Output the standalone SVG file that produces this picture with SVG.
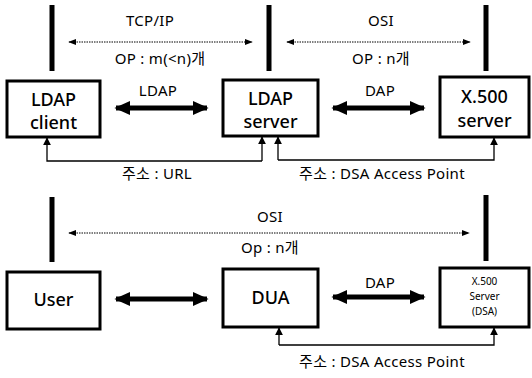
<svg xmlns="http://www.w3.org/2000/svg" width="532" height="378" viewBox="0 0 532 378">
<defs>
<style>
text{font-family:"Noto Sans","Noto Sans CJK KR",sans-serif;fill:#000;text-anchor:middle}
.lbl{font-size:15px;letter-spacing:0.3px}
.box{font-size:18px;font-weight:500}
.small{font-size:10px}
.node rect{fill:#fff;stroke:#000;stroke-width:3}
.bar{fill:#000}
.dot{stroke:#000;stroke-width:1;stroke-dasharray:1.5 1;fill:none}
.thick{stroke:#000;stroke-width:5;fill:none}
.thin{stroke:#000;stroke-width:1.3;fill:none}
</style>
<marker id="sa" viewBox="0 0 10 10" refX="9" refY="5" markerWidth="8" markerHeight="8" markerUnits="userSpaceOnUse" orient="auto-start-reverse"><path d="M0,1 L10,5 L0,9 Z" fill="#000"/></marker>
<marker id="ba" viewBox="0 0 10 10" refX="9" refY="5" markerWidth="16" markerHeight="16" markerUnits="userSpaceOnUse" orient="auto-start-reverse"><path d="M0,0.5 L10,5 L0,9.5 Z" fill="#000"/></marker>
<marker id="ua" viewBox="0 0 10 10" refX="9" refY="5" markerWidth="8" markerHeight="8" markerUnits="userSpaceOnUse" orient="auto"><path d="M0,0 L10,5 L0,10 Z" fill="#000"/></marker>
</defs>
<rect width="532" height="378" fill="#fff"/>
<g id="bars">
<rect class="bar" x="49.5" y="5" width="5" height="66"/>
<rect class="bar" x="266.5" y="5" width="5" height="66"/>
<rect class="bar" x="483.5" y="5" width="5" height="66"/>
<rect class="bar" x="49.5" y="197" width="5" height="65"/>
<rect class="bar" x="483.5" y="195" width="5" height="66"/>
</g>
<g id="ldap-client" class="node"><rect x="7" y="81" width="93" height="56"/><text class="box" x="53.5" y="106">LDAP</text><text class="box" x="53.5" y="129">client</text></g>
<g id="ldap-server" class="node"><rect x="223" y="80" width="95" height="56"/><text class="box" x="270.5" y="105">LDAP</text><text class="box" x="270.5" y="128">server</text></g>
<g id="x500-server" class="node"><rect x="440" y="77" width="89" height="60"/><text class="box" x="484.5" y="103">X.500</text><text class="box" x="484.5" y="127">server</text></g>
<g id="user" class="node"><rect x="7" y="272" width="93" height="57"/><text class="box" x="53.5" y="306">User</text></g>
<g id="dua" class="node"><rect x="223" y="269" width="95" height="58"/><text class="box" x="270.5" y="304">DUA</text></g>
<g id="x500-dsa" class="node"><rect x="440" y="268" width="89" height="59"/><text class="small" x="484.5" y="285">X.500</text><text class="small" x="484.5" y="300">Server</text><text class="small" x="484.5" y="315">(DSA)</text></g>
<g id="connectors">
<line class="dot" x1="69" y1="42" x2="252" y2="42" marker-start="url(#sa)" marker-end="url(#sa)"/>
<line class="dot" x1="287" y1="42" x2="470" y2="42" marker-start="url(#sa)" marker-end="url(#sa)"/>
<line class="dot" x1="69" y1="233" x2="469" y2="233" marker-start="url(#sa)" marker-end="url(#sa)"/>
<line class="thick" x1="116" y1="108" x2="207" y2="108" marker-start="url(#ba)" marker-end="url(#ba)"/>
<line class="thick" x1="333" y1="108" x2="424" y2="108" marker-start="url(#ba)" marker-end="url(#ba)"/>
<line class="thick" x1="116" y1="299" x2="207" y2="299" marker-start="url(#ba)" marker-end="url(#ba)"/>
<line class="thick" x1="333" y1="297" x2="424" y2="297" marker-start="url(#ba)" marker-end="url(#ba)"/>
<polyline class="thin" points="262,161 47,161 47,138" marker-end="url(#ua)"/>
<line class="thin" x1="262" y1="161" x2="262" y2="137" marker-end="url(#ua)"/>
<polyline class="thin" points="278,160 494,160 494,138" marker-end="url(#ua)"/>
<line class="thin" x1="278" y1="160" x2="278" y2="137" marker-end="url(#ua)"/>
<polyline class="thin" points="279,345 494,345 494,328" marker-end="url(#ua)"/>
<line class="thin" x1="279" y1="345" x2="279" y2="328" marker-end="url(#ua)"/>
</g>
<g id="labels">
<text class="lbl" x="150" y="26">TCP/IP</text>
<text class="lbl" x="160" y="64">OP : m(&lt;n)개</text>
<text class="lbl" x="381" y="26">OSI</text>
<text class="lbl" x="381" y="64">OP : n개</text>
<text class="lbl" x="158" y="96">LDAP</text>
<text class="lbl" x="380" y="96">DAP</text>
<text class="lbl" x="157" y="179">주소 : URL</text>
<text class="lbl" x="382" y="179">주소 : DSA Access Point</text>
<text class="lbl" x="270" y="222">OSI</text>
<text class="lbl" x="270" y="253">Op : n개</text>
<text class="lbl" x="380" y="288">DAP</text>
<text class="lbl" x="382" y="367">주소 : DSA Access Point</text>
</g>
</svg>
